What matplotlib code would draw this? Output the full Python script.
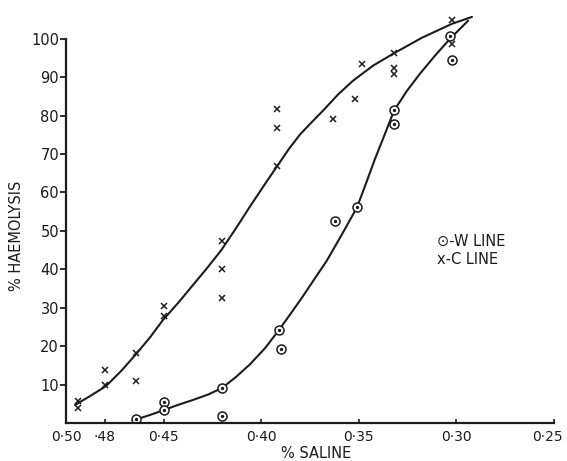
import matplotlib
matplotlib.use("Agg")
import matplotlib.pyplot as plt
import matplotlib.transforms as mtransforms

plt.rcParams['font.family'] = ['DejaVu Sans']

# ---- data ----
c_x = [0.494, 0.494, 0.480, 0.480, 0.464, 0.464, 0.450, 0.450,
       0.420, 0.420, 0.420, 0.392, 0.392, 0.392, 0.363, 0.352,
       0.348, 0.332, 0.332, 0.332, 0.302, 0.302]
c_y = [5.7, 3.9, 13.8, 9.9, 18.2, 10.9, 30.4, 27.8,
       47.3, 40.0, 32.5, 81.8, 76.9, 66.8, 79.0, 84.4,
       93.5, 96.4, 92.5, 90.9, 104.9, 98.7]

w_x = [0.464, 0.450, 0.450, 0.420, 0.420, 0.391, 0.390,
       0.362, 0.351, 0.332, 0.332, 0.303, 0.302]
w_y = [1.0, 5.5, 3.4, 9.1, 1.8, 24.2, 19.2,
       52.5, 56.1, 81.6, 77.7, 100.8, 94.5]

# hand-drawn fitted curves
c_curve_x = [0.4954, 0.4877, 0.4795, 0.4718, 0.4641, 0.4569, 0.4503,
             0.4426, 0.4354, 0.4277, 0.4205, 0.4128, 0.4056, 0.3985,
             0.3918, 0.3856, 0.3800, 0.3738, 0.3682, 0.3605, 0.3528,
             0.3426, 0.3323, 0.3174, 0.3021, 0.2918]
c_curve_y = [4.7, 7.0, 9.6, 13.5, 17.9, 22.3, 26.8,
             31.2, 35.6, 40.3, 44.9, 50.7, 56.4, 61.8,
             66.8, 71.4, 75.1, 78.4, 81.3, 85.5, 89.1,
             93.0, 96.1, 100.3, 103.9, 105.7]

w_curve_x = [0.4636, 0.4569, 0.4497, 0.4426, 0.4349, 0.4272, 0.4200,
             0.4128, 0.4056, 0.3979, 0.3908, 0.3846, 0.3785, 0.3723,
             0.3662, 0.3585, 0.3508, 0.3462, 0.3415, 0.3364, 0.3318,
             0.3251, 0.3185, 0.3108, 0.3031, 0.2938]
w_curve_y = [1.0, 2.1, 3.4, 4.7, 6.0, 7.4, 9.1,
             12.0, 15.3, 19.5, 24.2, 28.6, 33.0, 37.7,
             42.3, 49.1, 56.1, 62.3, 68.8, 75.3, 81.3,
             86.5, 90.9, 95.6, 100.0, 104.7]

x_ticks = [0.50, 0.48, 0.45, 0.40, 0.35, 0.30, 0.25]
x_tick_labels = ["0·50", "·48", "0·45", "0·40", "0·35", "0·30", "0·25"]
y_ticks = [10, 20, 30, 40, 50, 60, 70, 80, 90, 100]
y_tick_labels = ["10", "20", "30", "40", "50", "60", "70", "80", "90", "100"]

ink = "#1c1c1c"

fig = plt.figure(figsize=(5.67, 4.61), dpi=100)
ax = fig.add_axes([0.1164, 0.0824, 0.8598, 0.8959])

ax.plot(c_curve_x, c_curve_y, color=ink, lw=1.5, solid_capstyle='round',
        solid_joinstyle='round')
ax.plot(w_curve_x, w_curve_y, color=ink, lw=1.5, solid_capstyle='round',
        solid_joinstyle='round')

ax.plot(c_x, c_y, linestyle='none', marker='x', markersize=4.2,
        markeredgewidth=1.1, color=ink)
ax.plot(w_x, w_y, linestyle='none', marker='o', markersize=6.5,
        markerfacecolor='white', markeredgewidth=1.1, markeredgecolor=ink)
ax.plot(w_x, w_y, linestyle='none', marker='o', markersize=1.4,
        color=ink)

ax.set_xlim(0.50, 0.25)
ax.set_ylim(0, 107.5)

for s in ['top', 'right']:
    ax.spines[s].set_visible(False)
ax.spines['left'].set_bounds(0, 100)
for s in ['left', 'bottom']:
    ax.spines[s].set_linewidth(1.6)
    ax.spines[s].set_color(ink)

ax.set_xticks(x_ticks)
ax.set_xticklabels(x_tick_labels)
ax.set_yticks(y_ticks)
ax.set_yticklabels(y_tick_labels)
ax.tick_params(axis='y', direction='out', length=4, width=1.3, colors=ink,
               labelsize=10.5, pad=1)
ax.tick_params(axis='x', direction='in', length=3, width=1.2, colors=ink,
               labelsize=10, pad=5)

# nudge the last x tick label so it stays inside the picture
last = ax.get_xticklabels()[-1]
last.set_transform(last.get_transform() +
                   mtransforms.ScaledTranslation(-6 / 100, 0,
                                                 fig.dpi_scale_trans))

fig.text(316 / 567, 1 - 453 / 461, "% SALINE", fontsize=10.5, color=ink,
         ha='center', va='center')
fig.text(17 / 567, 1 - 236 / 461, "% HAEMOLYSIS", fontsize=10.5, color=ink,
         ha='center', va='center', rotation=90)

ax.text(0.761, 0.44, "⊙-W LINE", transform=ax.transAxes, fontsize=10.5,
        color=ink, va='center', ha='left')
ax.text(0.761, 0.396, "x-C LINE", transform=ax.transAxes, fontsize=10.5,
        color=ink, va='center', ha='left')

fig.savefig("out.png", dpi=100)
